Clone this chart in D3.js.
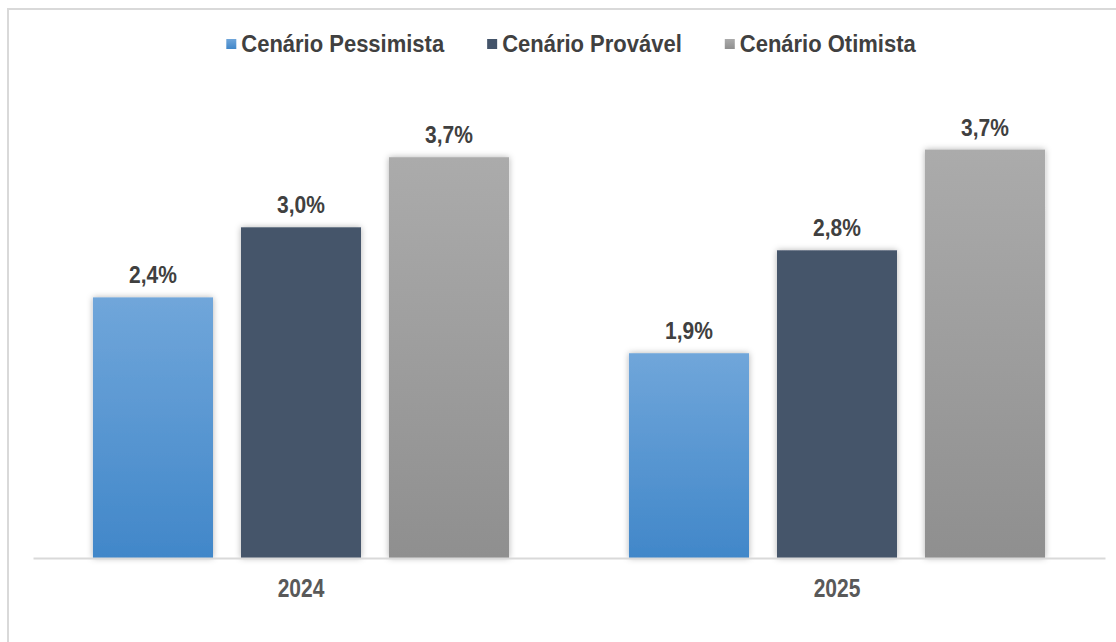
<!DOCTYPE html>
<html>
<head>
    <meta charset="utf-8">
    <title>Cenários</title>
    <script src="https://d3js.org/d3.v7.min.js"></script>
    <style>
        body { margin: 0; background: #ffffff; }
        text { font-family: "Liberation Sans", Arial, sans-serif; font-weight: bold; }
    </style>
</head>
<body>
<div id="chart"></div>
<script>
    // data
    const years = ["2024", "2025"];
    const series = ["Cenário Pessimista", "Cenário Provável", "Cenário Otimista"];
    const pessimista = [2.38, 1.87];
    const provavel = [3.02, 2.81];
    const otimista = [3.66, 3.73];

    const W = 1116, H = 642;
    const rows = years.map((y, i) => ({year: y, values: [pessimista[i], provavel[i], otimista[i]]}));

    const svg = d3.select("#chart").append("svg")
        .attr("width", W).attr("height", H);

    const defs = svg.append("defs");
    // gradient fills for the bars
    const grads = [
        {id: "g0", top: "#70a6da", bottom: "#4187c9"},
        {id: "g1", top: "#44546a", bottom: "#44546a"},
        {id: "g2", top: "#ababab", bottom: "#8f8f8f"}
    ];
    grads.forEach(g => {
        const lg = defs.append("linearGradient").attr("id", g.id)
            .attr("x1", 0).attr("y1", 0).attr("x2", 0).attr("y2", 1);
        lg.append("stop").attr("offset", "0%").attr("stop-color", g.top);
        lg.append("stop").attr("offset", "100%").attr("stop-color", g.bottom);
    });
    defs.append("filter").attr("id", "shadow")
        .attr("x", "-10%").attr("y", "-5%").attr("width", "120%").attr("height", "110%")
        .append("feDropShadow")
        .attr("dx", 0).attr("dy", 0).attr("stdDeviation", 3)
        .attr("flood-color", "#000").attr("flood-opacity", 0.3);

    // chart border
    svg.append("rect")
        .attr("x", 8).attr("y", 9).attr("width", 1200).attr("height", 700)
        .attr("fill", "none").attr("stroke", "#d9d9d9").attr("stroke-width", 2);

    // scales
    const x = d3.scaleBand().domain(years).range([33, 1105]);
    const xSub = d3.scaleBand().domain(series)
        .range([0, x.bandwidth()])
        .paddingInner(0.189).paddingOuter(0.405);
    const y = d3.scaleLinear().domain([0, 4]).range([558, 120]);
    const fmt = v => d3.format(".1f")(v).replace(".", ",") + "%";

    // bars
    const groups = svg.append("g").selectAll("g")
        .data(rows)
        .join("g")
        .attr("transform", d => `translate(${x(d.year)},0)`);

    groups.selectAll("rect")
        .data(d => d.values.map((v, i) => ({key: series[i], value: v, i: i})))
        .join("rect")
        .attr("x", d => xSub(d.key))
        .attr("y", d => y(d.value))
        .attr("width", xSub.bandwidth())
        .attr("height", d => y(0) - y(d.value))
        .attr("fill", d => `url(#g${d.i})`)
        .attr("filter", "url(#shadow)");

    // value labels (text a bit taller, like the original)
    groups.selectAll("text")
        .data(d => d.values.map((v, i) => ({key: series[i], value: v})))
        .join("text")
        .attr("transform", d => `translate(${xSub(d.key) + xSub.bandwidth() / 2},${y(d.value) - 14}) scale(1,1.12)`)
        .attr("text-anchor", "middle")
        .attr("font-size", 21)
        .attr("fill", "#404040")
        .text(d => fmt(d.value));

    // x axis
    const xAxis = svg.append("g")
        .attr("transform", `translate(0,${y(0)})`)
        .call(d3.axisBottom(x).tickSize(0).tickPadding(18));
    xAxis.select(".domain").attr("stroke", "#d9d9d9").attr("stroke-width", 2);
    xAxis.selectAll("text")
        .attr("font-size", 21)
        .attr("fill", "#595959")
        .attr("font-family", "Liberation Sans, Arial, sans-serif")
        .attr("font-weight", "bold")
        .attr("transform", "scale(1,1.2)");

    // legend
    const legend = svg.append("g");
    let lx = 0;
    series.forEach((s, i) => {
        const item = legend.append("g").attr("transform", `translate(${lx},0)`);
        item.append("rect").attr("x", 0).attr("y", 39).attr("width", 10).attr("height", 10)
            .attr("fill", `url(#g${i})`);
        const t = item.append("text")
            .attr("transform", "translate(15,52) scale(1,1.1)")
            .attr("font-size", 22).attr("fill", "#404040").text(s);
        lx += 15 + t.node().getComputedTextLength() + 43;
    });
    const legendW = lx - 43;
    legend.attr("transform", `translate(${571 - legendW / 2},0)`);
</script>
</body>
</html>
